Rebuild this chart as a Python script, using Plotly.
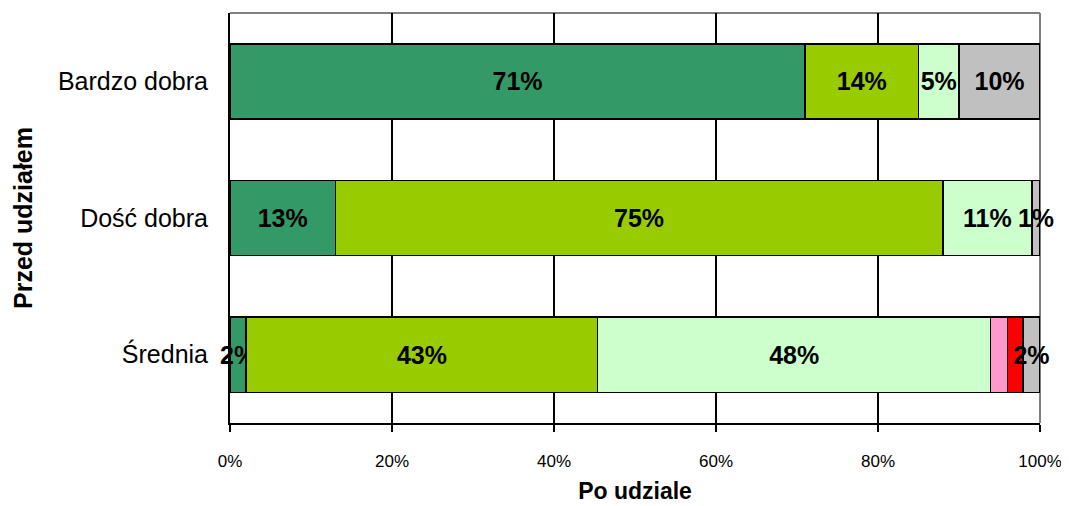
import plotly.graph_objects as go

# Ocena przed udziałem (kategorie osi Y) i rozkład oceny po udziale (serie)
categories = ['Bardzo dobra', 'Dość dobra', 'Średnia']
series_names = ['Bardzo dobra', 'Dość dobra', 'Średnia', 'Raczej zła', 'Zła', 'Trudno powiedzieć']
colors = ['#339966', '#99CC00', '#CCFFCC', '#FF99CC', '#FF0000', '#C0C0C0']

bardzo_dobra = [71, 14, 5, 0, 0, 10]
dosc_dobra = [13, 75, 11, 0, 0, 1]
srednia = [2, 43.4, 48.5, 2.1, 1.9, 2.1]

# etykiety pokazywane na wykresie (puste = bez etykiety)
labels_bardzo_dobra = ['71%', '14%', '5%', '', '', '10%']
labels_dosc_dobra = ['13%', '75%', '11%', '', '', '1%']
labels_srednia = ['2%', '43%', '48%', '', '', '2%']

x_ticks = [0, 20, 40, 60, 80, 100]
x_tick_labels = ['0%', '20%', '40%', '60%', '80%', '100%']

rows = [bardzo_dobra, dosc_dobra, srednia]
label_rows = [labels_bardzo_dobra, labels_dosc_dobra, labels_srednia]

font_family = 'Liberation Sans, Arial, sans-serif'

fig = go.Figure()
for i, name in enumerate(series_names):
    fig.add_trace(go.Bar(
        y=categories,
        x=[r[i] for r in rows],
        name=name,
        orientation='h',
        marker=dict(color=colors[i], line=dict(color='black', width=1.5)),
        text=[l[i] for l in label_rows],
        textposition='inside',
        insidetextanchor='middle',
        textangle=0,
        constraintext='none',
        cliponaxis=False,
        textfont=dict(family=font_family, size=25, color='black', weight='bold'),
        hoverinfo='x+y+name',
    ))

# strona ma 8 px marginesu body, więc figura jest o 8 px mniejsza
fig.update_layout(
    barmode='stack',
    bargap=0.45,
    width=1061, height=498,
    margin=dict(l=222, r=29, t=5, b=83),
    paper_bgcolor='white', plot_bgcolor='white',
    showlegend=False,
    font=dict(family=font_family, color='black'),
    xaxis=dict(
        range=[0, 100],
        tickvals=x_ticks,
        ticktext=x_tick_labels,
        tickfont=dict(size=17),
        showgrid=True, gridcolor='black', gridwidth=2,
        showline=True, linecolor='black', linewidth=2,
        ticks='outside', ticklen=7, tickcolor='black', tickwidth=1.5,
        ticklabelstandoff=15,
        zeroline=False,
        title=dict(text='Po udziale', font=dict(size=23, weight='bold'), standoff=12),
    ),
    yaxis=dict(
        categoryorder='array', categoryarray=categories[::-1],
        tickfont=dict(size=25),
        showline=True, linecolor='black', linewidth=2,
        ticks='', ticklabelstandoff=15,
        showgrid=False, zeroline=False,
        title=dict(text='Przed udziałem', font=dict(size=25, weight='bold'), standoff=18),
    ),
    shapes=[
        dict(type='line', xref='paper', yref='paper', x0=0, x1=1, y0=1, y1=1,
             line=dict(color='#808080', width=2), layer='below'),
        dict(type='line', xref='paper', yref='paper', x0=1, x1=1, y0=0, y1=1,
             line=dict(color='#808080', width=2), layer='below'),
    ],
)

fig.write_html('out.html')
